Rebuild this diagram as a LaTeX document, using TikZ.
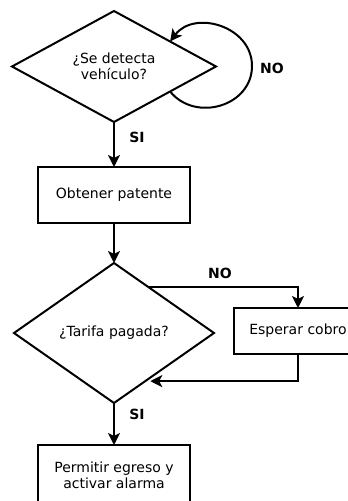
\documentclass[tikz,border=0pt]{standalone}
\usepackage{fontspec}
\setmainfont{DejaVu Sans}
\usetikzlibrary{positioning,shapes.geometric,arrows.meta}

\begin{document}
\begin{tikzpicture}[x=1pt,y=1pt,
  decision/.style={diamond,draw=drawColor,line width=2pt,inner sep=0pt,outer sep=0pt,aspect=1.8,align=center,text=drawColor,font=\fontsize{14}{16}\selectfont},
  process/.style={rectangle,draw=drawColor,fill=fillColor,line width=2pt,inner sep=0pt,outer sep=0pt,align=center,text=drawColor,font=\fontsize{14}{16}\selectfont},
  branch/.style={text=drawColor,inner sep=0pt,outer sep=0pt,font=\bfseries\fontsize{14}{16}\selectfont},
  flow/.style={draw=drawColor,line width=2pt,-{Stealth[length=12pt,width=12pt,inset=3pt]}}]
\definecolor{fillColor}{RGB}{255,255,255}
\definecolor{drawColor}{RGB}{0,0,0}
\path[use as bounding box,fill=fillColor] (0,0) rectangle (348,501);
\begin{scope}
\path[clip] (0,0) rectangle (348,501);

\node[decision,minimum width=204pt,minimum height=111pt] (detect) at (114,434.5) {¿Se detecta\\vehículo?};

\node[process,minimum width=152pt,minimum height=56pt] (patente) at (114,306) {Obtener patente};

\node[decision,minimum width=200pt,minimum height=140pt] (tarifa) at (114,168) {¿Tarifa pagada?};

\node[process,minimum width=128pt,minimum height=46pt] (esperar) at (298,170) {Esperar cobro};

\node[process,minimum width=152pt,minimum height=60pt] (permitir) at (114,26) {Permitir egreso y\\activar alarma};

\coordinate (loopright) at (252,435);

\draw[flow] (detect.-24) to[out=-51,in=-90,looseness=1.2] (loopright)
	to[out=90,in=53,looseness=1.2] (detect.24);

\draw[flow] (detect.south) -- (patente.north);

\draw[flow] (patente.south) -- (tarifa.north);

\draw[flow] (tarifa.53) -| (esperar.north);

\draw[flow,shorten >=5pt] (esperar.south) |- (tarifa.-57);

\draw[flow] (tarifa.south) -- (permitir.north);

\node[branch] (detectno) at (272,433) {NO};

\node[branch] (detectsi) at (137,364) {SI};

\node[branch] (tarifano) at (220,228) {NO};

\node[branch] (tarifasi) at (137,87) {SI};
\end{scope}
\end{tikzpicture}
\end{document}
